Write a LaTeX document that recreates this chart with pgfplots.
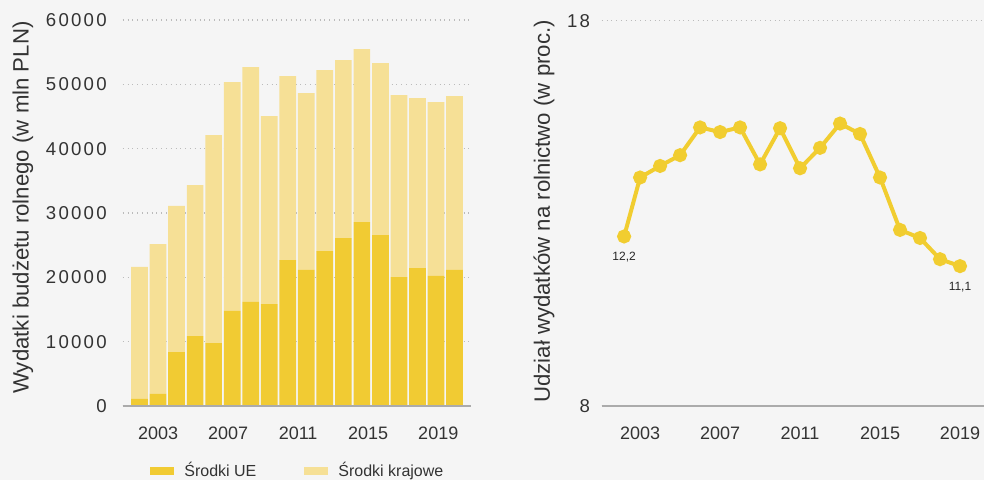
\documentclass[border=0pt]{standalone}
\usepackage{pgfplots}
\pgfplotsset{compat=1.18}
\usepackage{pgfplotstable}
\usepackage{fontspec}
\setmainfont{Liberation Sans}
\newfontfamily\tickfont[LetterSpace=12]{Liberation Sans}
\definecolor{bg}{HTML}{F5F5F5}
\definecolor{eu}{HTML}{F1CB33}
\definecolor{kraj}{HTML}{F6E096}
\definecolor{linec}{HTML}{F1CD30}
\definecolor{txt}{HTML}{333333}
\definecolor{gridc}{HTML}{BBBBBB}
\definecolor{axc}{HTML}{ABABAB}

\pgfplotstableread{
idx ue kraj
0 1090 20520
1 1870 23310
2 8390 22700
3 10880 23470
4 9790 32330
5 14770 35590
6 16170 36520
7 15850 29220
8 22690 28600
9 21140 27510
10 24090 28130
11 26110 27670
12 28600 26890
13 26580 26730
14 20050 28290
15 21450 26420
16 20210 27040
17 21140 27040
}\budzet

\pgfplotstableread{
year share
2002.2 12.40
2003 13.93
2004 14.23
2005 14.51
2006 15.23
2007 15.11
2008 15.23
2009 14.27
2010 15.21
2011 14.17
2012 14.70
2013 15.33
2014 15.06
2015 13.93
2016 12.57
2017 12.36
2018 11.81
2019 11.63
}\udzial

\pgfplotsset{
  common/.style={
    scale only axis,
    anchor=south west,
    axis line style={draw=none},
    major tick length=0pt,
    ymajorgrids,
    grid style={gridc, dotted, line width=0.6pt},
    /pgf/number format/assume math mode=true,
    /pgf/number format/1000 sep={},
    scaled y ticks=false,
    xticklabel style={font=\fontsize{9}{10}\selectfont, text=txt, yshift=-7pt},
    ylabel style={font=\fontsize{11.1}{12}\selectfont, text=txt, anchor=center},
    extra description/.code={\draw[axc, line width=0.75pt] (rel axis cs:0,0) -- (rel axis cs:1,0);},
  }
}

\begin{document}
\begin{tikzpicture}
\useasboundingbox (0pt,0pt) rectangle (492pt,240pt);
\fill[bg] (0pt,0pt) rectangle (492pt,240pt);

\begin{axis}[
  common,
  at={(61.35pt,37pt)},
  width=174pt, height=193pt,
  ybar stacked, bar width=0.9,
  xmin=-0.906, xmax=17.87, ymin=0, ymax=60000,
  ytick={0,10000,20000,30000,40000,50000,60000},
  xtick={1,4.78,8.56,12.34,16.12},
  xticklabels={2003,2007,2011,2015,2019},
  yticklabel style={font=\tickfont\fontsize{9.3}{10}\selectfont, text=txt, xshift=-4.5pt},
  ylabel={Wydatki budżetu rolnego (w mln PLN)},
  ylabel style={at={(axis description cs:-0.2865,0.514)}},
  legend columns=2,
  legend style={at={(axis description cs:0.0784,-0.168)}, anchor=west, draw=none, fill=none, inner sep=0pt,
    font=\fontsize{8}{9}\selectfont, text=txt,
    /tikz/every odd column/.style={column sep=3pt},
    /tikz/every even column/.style={column sep=22pt}},
]
\addplot[fill=eu, draw=none, legend image code/.code={\fill[eu] (0pt,-2pt) rectangle (12pt,2pt);}] table[x=idx, y=ue] {\budzet};
\addplot[fill=kraj, draw=none, legend image code/.code={\fill[kraj] (0pt,-2pt) rectangle (12pt,2pt);}] table[x=idx, y=kraj] {\budzet};
\legend{Środki UE, Środki krajowe}
\end{axis}

\begin{axis}[
  common,
  at={(300.85pt,37pt)},
  width=191.15pt, height=192.65pt,
  xmin=2001.08, xmax=2020.2, ymin=8, ymax=18,
  ytick={8,18},
  xtick={2003,2007,2011,2015,2019},
  yticklabel style={font=\tickfont\fontsize{9.3}{10}\selectfont, text=txt, xshift=-2.3pt},
  ylabel={Udział wydatków na rolnictwo (w proc.)},
  ylabel style={at={(axis description cs:-0.151,0.505)}},
]
\addplot[linec, line width=2pt, mark=*, mark size=2.5pt, mark options={solid, fill=linec, draw=none}] table[x=year, y=share] {\udzial};
\node[font=\fontsize{6}{7}\selectfont, text=black!85] at (axis cs:2002.2,12.40) [yshift=-10.5pt] {12,2};
\node[font=\fontsize{6}{7}\selectfont, text=black!85] at (axis cs:2019,11.63) [yshift=-10.5pt] {11,1};
\end{axis}
\end{tikzpicture}
\end{document}
